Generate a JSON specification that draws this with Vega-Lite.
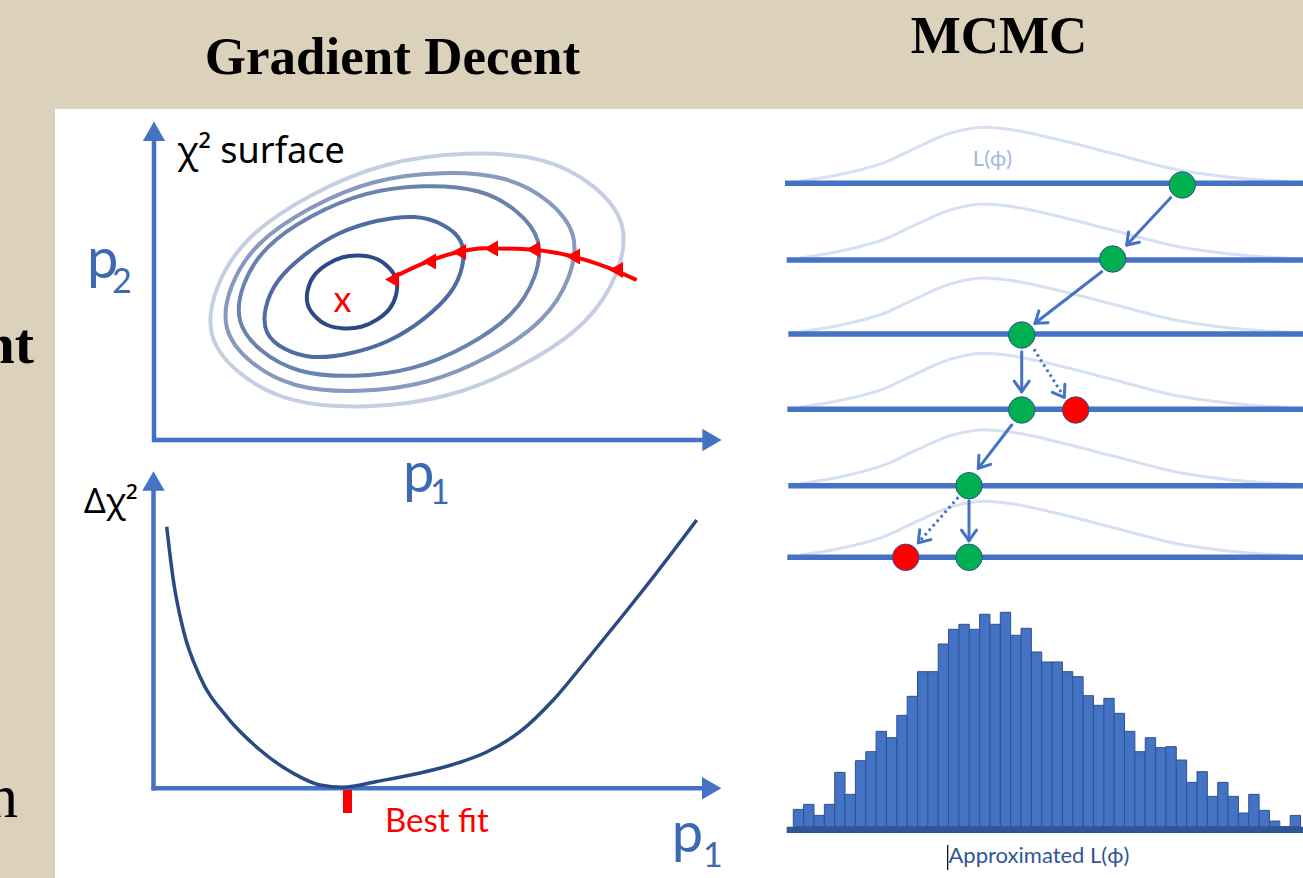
{
  "$schema": "https://vega.github.io/schema/vega-lite/v6.json",
  "width": 1303,
  "height": 878,
  "autosize": {"type": "none"},
  "padding": 0,
  "background": "#dcd2bb",
  "config": {"view": {"stroke": null}},
  "datasets": {
    "panel": [{"x": 55, "y": 109, "x2": 1303, "y2": 878}],
    "likelihood": [
      {"k": 1, "x": 800, "y": 181.3}, {"k": 1, "x": 850, "y": 172.3}, {"k": 1, "x": 885, "y": 162.3}, {"k": 1, "x": 915, "y": 148.3}, {"k": 1, "x": 950, "y": 133.3}, {"k": 1, "x": 985, "y": 127.3}, {"k": 1, "x": 1015, "y": 130.3}, {"k": 1, "x": 1065, "y": 141.3}, {"k": 1, "x": 1112, "y": 153.3}, {"k": 1, "x": 1180, "y": 170.3}, {"k": 1, "x": 1230, "y": 177.3}, {"k": 1, "x": 1290, "y": 181.8},
      {"k": 2, "x": 800, "y": 258}, {"k": 2, "x": 850, "y": 249}, {"k": 2, "x": 885, "y": 239}, {"k": 2, "x": 915, "y": 225}, {"k": 2, "x": 950, "y": 210}, {"k": 2, "x": 985, "y": 204}, {"k": 2, "x": 1015, "y": 207}, {"k": 2, "x": 1065, "y": 218}, {"k": 2, "x": 1112, "y": 230}, {"k": 2, "x": 1180, "y": 247}, {"k": 2, "x": 1230, "y": 254}, {"k": 2, "x": 1290, "y": 258.5},
      {"k": 3, "x": 800, "y": 332}, {"k": 3, "x": 850, "y": 323}, {"k": 3, "x": 885, "y": 313}, {"k": 3, "x": 915, "y": 299}, {"k": 3, "x": 950, "y": 284}, {"k": 3, "x": 985, "y": 278}, {"k": 3, "x": 1015, "y": 281}, {"k": 3, "x": 1065, "y": 292}, {"k": 3, "x": 1112, "y": 304}, {"k": 3, "x": 1180, "y": 321}, {"k": 3, "x": 1230, "y": 328}, {"k": 3, "x": 1290, "y": 332.5},
      {"k": 4, "x": 800, "y": 407.3}, {"k": 4, "x": 850, "y": 398.3}, {"k": 4, "x": 885, "y": 388.3}, {"k": 4, "x": 915, "y": 374.3}, {"k": 4, "x": 950, "y": 359.3}, {"k": 4, "x": 985, "y": 353.3}, {"k": 4, "x": 1015, "y": 356.3}, {"k": 4, "x": 1065, "y": 367.3}, {"k": 4, "x": 1112, "y": 379.3}, {"k": 4, "x": 1180, "y": 396.3}, {"k": 4, "x": 1230, "y": 403.3}, {"k": 4, "x": 1290, "y": 407.8},
      {"k": 5, "x": 800, "y": 483.7}, {"k": 5, "x": 850, "y": 474.7}, {"k": 5, "x": 885, "y": 464.7}, {"k": 5, "x": 915, "y": 450.7}, {"k": 5, "x": 950, "y": 435.7}, {"k": 5, "x": 985, "y": 429.7}, {"k": 5, "x": 1015, "y": 432.7}, {"k": 5, "x": 1065, "y": 443.7}, {"k": 5, "x": 1112, "y": 455.7}, {"k": 5, "x": 1180, "y": 472.7}, {"k": 5, "x": 1230, "y": 479.7}, {"k": 5, "x": 1290, "y": 484.2},
      {"k": 6, "x": 800, "y": 555.3}, {"k": 6, "x": 850, "y": 546.3}, {"k": 6, "x": 885, "y": 536.3}, {"k": 6, "x": 915, "y": 522.3}, {"k": 6, "x": 950, "y": 507.3}, {"k": 6, "x": 985, "y": 501.3}, {"k": 6, "x": 1015, "y": 504.3}, {"k": 6, "x": 1065, "y": 515.3}, {"k": 6, "x": 1112, "y": 527.3}, {"k": 6, "x": 1180, "y": 544.3}, {"k": 6, "x": 1230, "y": 551.3}, {"k": 6, "x": 1290, "y": 555.8}
    ],
    "chains": [
      {"x": 785, "x2": 1303, "y": 183.3},
      {"x": 786.7, "x2": 1303, "y": 260},
      {"x": 788.3, "x2": 1303, "y": 334},
      {"x": 787.3, "x2": 1303, "y": 409.3},
      {"x": 788.3, "x2": 1303, "y": 485.7},
      {"x": 787.3, "x2": 1303, "y": 557.3}
    ],
    "contours": [
      {"e": "c5", "x": 621.8, "y": 225.1}, {"e": "c5", "x": 540, "y": 159.9}, {"e": "c5", "x": 386.2, "y": 165}, {"e": "c5", "x": 250.4, "y": 237.5}, {"e": "c5", "x": 212.2, "y": 334.9}, {"e": "c5", "x": 294, "y": 400.1}, {"e": "c5", "x": 447.8, "y": 395}, {"e": "c5", "x": 583.6, "y": 322.5},
      {"e": "c4", "x": 572.9, "y": 235.6}, {"e": "c4", "x": 503.4, "y": 178.8}, {"e": "c4", "x": 373.3, "y": 182.5}, {"e": "c4", "x": 258.9, "y": 244.5}, {"e": "c4", "x": 227.1, "y": 328.4}, {"e": "c4", "x": 296.6, "y": 385.2}, {"e": "c4", "x": 426.7, "y": 381.5}, {"e": "c4", "x": 541.1, "y": 319.5},
      {"e": "c3", "x": 537.8, "y": 241.1}, {"e": "c3", "x": 477.7, "y": 191.3}, {"e": "c3", "x": 365.7, "y": 194.1}, {"e": "c3", "x": 267.3, "y": 247.8}, {"e": "c3", "x": 240.2, "y": 320.9}, {"e": "c3", "x": 300.3, "y": 370.7}, {"e": "c3", "x": 412.3, "y": 367.9}, {"e": "c3", "x": 510.7, "y": 314.2},
      {"e": "c2", "x": 460.9, "y": 241.7}, {"e": "c2", "x": 414.8, "y": 217.1}, {"e": "c2", "x": 339, "y": 233.5}, {"e": "c2", "x": 277.8, "y": 281.2}, {"e": "c2", "x": 267.1, "y": 332.3}, {"e": "c2", "x": 313.2, "y": 356.9}, {"e": "c2", "x": 389, "y": 340.5}, {"e": "c2", "x": 450.2, "y": 292.8},
      {"e": "c1", "x": 396.4, "y": 280.1}, {"e": "c1", "x": 376.8, "y": 259}, {"e": "c1", "x": 342.7, "y": 257.2}, {"e": "c1", "x": 314, "y": 275.8}, {"e": "c1", "x": 307.6, "y": 303.9}, {"e": "c1", "x": 327.2, "y": 325}, {"e": "c1", "x": 361.3, "y": 326.8}, {"e": "c1", "x": 390, "y": 308.2}
    ],
    "descent": [
      {"x": 636.7, "y": 280}, {"x": 610, "y": 268.3}, {"x": 566.7, "y": 255}, {"x": 526.7, "y": 249.3}, {"x": 485, "y": 248.3}, {"x": 453.3, "y": 253.3}, {"x": 423.3, "y": 263.3}, {"x": 392, "y": 278}
    ],
    "descentHeads": [
      {"x": 616, "y": 270}, {"x": 573, "y": 256.5}, {"x": 533, "y": 249.5}, {"x": 491, "y": 248.5}, {"x": 459, "y": 252}, {"x": 429, "y": 261.5}, {"x": 392, "y": 279.5}
    ],
    "axes": [
      {"x": 154, "y": 141, "x2": 154, "y2": 441.5},
      {"x": 152, "y": 440, "x2": 703, "y2": 440},
      {"x": 153.5, "y": 489, "x2": 153.5, "y2": 790.5},
      {"x": 151.5, "y": 788.3, "x2": 703, "y2": 788.3}
    ],
    "axisUp": [{"x": 154, "y": 131.2}, {"x": 153.5, "y": 481}],
    "axisRight": [{"x": 712, "y": 440}, {"x": 711.7, "y": 788.3}],
    "chi2": [
      {"x": 166.7, "y": 526.7}, {"x": 173.3, "y": 580}, {"x": 183.3, "y": 630}, {"x": 200, "y": 676.7}, {"x": 226.7, "y": 716.7}, {"x": 260, "y": 750}, {"x": 293.3, "y": 773.3}, {"x": 320, "y": 785}, {"x": 343.3, "y": 787.3}, {"x": 376.7, "y": 781.5}, {"x": 420, "y": 773}, {"x": 453, "y": 764.5}, {"x": 486.7, "y": 752}, {"x": 520, "y": 731.7}, {"x": 553.3, "y": 700}, {"x": 586.7, "y": 660}, {"x": 620, "y": 619}, {"x": 653.3, "y": 577}, {"x": 696.7, "y": 520}
    ],
    "bestTick": [{"x": 343, "y": 790, "x2": 352, "y2": 813}],
    "histBase": [{"x": 786.7, "y": 826.7, "x2": 1303, "y2": 833}],
    "arrowSolid": [
      {"x": 1170.7, "y": 197.7, "x2": 1126.7, "y2": 245},
      {"x": 1126.7, "y": 245, "x2": 1139.4, "y2": 242.3},
      {"x": 1126.7, "y": 245, "x2": 1128.5, "y2": 232.1},
      {"x": 1101.7, "y": 271.7, "x2": 1035, "y2": 323.3},
      {"x": 1035, "y": 323.3, "x2": 1048, "y2": 322.7},
      {"x": 1035, "y": 323.3, "x2": 1038.9, "y2": 310.9},
      {"x": 1021.7, "y": 351.7, "x2": 1021.7, "y2": 391.7},
      {"x": 1021.7, "y": 391.7, "x2": 1029.2, "y2": 381.1},
      {"x": 1021.7, "y": 391.7, "x2": 1014.2, "y2": 381.1},
      {"x": 1011.7, "y": 425, "x2": 978.3, "y2": 468.3},
      {"x": 978.3, "y": 468.3, "x2": 990.7, "y2": 464.4},
      {"x": 978.3, "y": 468.3, "x2": 978.9, "y2": 455.3},
      {"x": 969, "y": 500.7, "x2": 969, "y2": 540.7},
      {"x": 969, "y": 540.7, "x2": 976.5, "y2": 530.1},
      {"x": 969, "y": 540.7, "x2": 961.5, "y2": 530.1},
      {"x": 1064.3, "y": 397.3, "x2": 1064.9, "y2": 384.3},
      {"x": 1064.3, "y": 397.3, "x2": 1052.3, "y2": 392.3},
      {"x": 918.3, "y": 542.7, "x2": 930.9, "y2": 539.6},
      {"x": 918.3, "y": 542.7, "x2": 919.7, "y2": 529.8}
    ],
    "arrowDotted": [
      {"x": 1034, "y": 349.3, "x2": 1064.3, "y2": 397.3},
      {"x": 958.3, "y": 497.3, "x2": 918.3, "y2": 542.7}
    ],
    "accepted": [
      {"x": 1182.3, "y": 185}, {"x": 1112.7, "y": 259}, {"x": 1021.7, "y": 335}, {"x": 1021.7, "y": 410}, {"x": 969, "y": 485.7}, {"x": 969, "y": 557.3}
    ],
    "rejected": [{"x": 1075.7, "y": 410}, {"x": 905.7, "y": 557.3}],
    "cursor": [{"x": 947.7, "y": 845, "x2": 947.7, "y2": 870}],
    "titles": [
      {"t": "Gradient Decent", "x": 392.5, "y": 74},
      {"t": "MCMC", "x": 999, "y": 53.3}
    ],
    "sideBold": [{"t": "nt", "x": 34, "y": 363}],
    "sideRegular": [{"t": "n", "x": 18, "y": 817}],
    "surfaceLabel": [{"t": "χ² surface", "x": 177, "y": 163}],
    "deltaLabel": [{"t": "Δχ²", "x": 84, "y": 513}],
    "minMark": [{"t": "x", "x": 342.5, "y": 311.7}],
    "bestLabel": [{"t": "Best fit", "x": 385, "y": 831.7}],
    "pLabels": [
      {"t": "p", "x": 87, "y": 278},
      {"t": "p", "x": 403, "y": 492},
      {"t": "p", "x": 671.7, "y": 852}
    ],
    "pSubs": [
      {"t": "2", "x": 112, "y": 293},
      {"t": "1", "x": 430, "y": 504},
      {"t": "1", "x": 703, "y": 867}
    ],
    "likeLabel": [{"t": "L(ϕ)", "x": 992.5, "y": 166}],
    "approxLabel": [{"t": "Approximated L(ϕ)", "x": 948.5, "y": 863}],
    "hist": [
      {"bin": 1, "count": 52}, {"bin": 2, "count": 67}, {"bin": 3, "count": 34}, {"bin": 4, "count": 67}, {"bin": 5, "count": 163},
      {"bin": 6, "count": 97}, {"bin": 7, "count": 198}, {"bin": 8, "count": 225}, {"bin": 9, "count": 286}, {"bin": 10, "count": 267},
      {"bin": 11, "count": 334}, {"bin": 12, "count": 391}, {"bin": 13, "count": 465}, {"bin": 14, "count": 465}, {"bin": 15, "count": 548},
      {"bin": 16, "count": 592}, {"bin": 17, "count": 607}, {"bin": 18, "count": 592}, {"bin": 19, "count": 637}, {"bin": 20, "count": 607},
      {"bin": 21, "count": 643}, {"bin": 22, "count": 574}, {"bin": 23, "count": 595}, {"bin": 24, "count": 524}, {"bin": 25, "count": 494},
      {"bin": 26, "count": 494}, {"bin": 27, "count": 465}, {"bin": 28, "count": 450}, {"bin": 29, "count": 393}, {"bin": 30, "count": 364},
      {"bin": 31, "count": 385}, {"bin": 32, "count": 340}, {"bin": 33, "count": 286}, {"bin": 34, "count": 225}, {"bin": 35, "count": 267},
      {"bin": 36, "count": 237}, {"bin": 37, "count": 240}, {"bin": 38, "count": 200}, {"bin": 39, "count": 133}, {"bin": 40, "count": 165},
      {"bin": 41, "count": 91}, {"bin": 42, "count": 133}, {"bin": 43, "count": 91}, {"bin": 44, "count": 41}, {"bin": 45, "count": 97},
      {"bin": 46, "count": 49}, {"bin": 47, "count": 17}, {"bin": 48, "count": 0}, {"bin": 49, "count": 34}
    ]
  },
  "resolve": {"scale": {"x": "independent", "y": "independent"}},
  "layer": [
    {
      "encoding": {
        "x": {"field": "x", "type": "quantitative", "scale": {"domain": [0, 1303], "nice": false, "zero": false}, "axis": null},
        "y": {"field": "y", "type": "quantitative", "scale": {"domain": [0, 878], "nice": false, "zero": false, "reverse": true}, "axis": null}
      },
      "layer": [
        {"data": {"name": "panel"}, "mark": {"type": "rect", "color": "#ffffff"}, "encoding": {"x2": {"field": "x2"}, "y2": {"field": "y2"}}},
        {"data": {"name": "likelihood"}, "mark": {"type": "line", "color": "#d6e0f3", "strokeWidth": 3, "interpolate": "monotone"}, "encoding": {"detail": {"field": "k", "type": "nominal"}}},
        {"data": {"name": "chains"}, "mark": {"type": "rule", "color": "#4472c4", "strokeWidth": 5.5}, "encoding": {"x2": {"field": "x2"}}},
        {"data": {"name": "contours"}, "mark": {"type": "line", "strokeWidth": 4, "interpolate": "cardinal-closed"},
          "encoding": {
            "color": {"field": "e", "type": "nominal", "scale": {"domain": ["c1", "c2", "c3", "c4", "c5"], "range": ["#2b4a86", "#4f6ca2", "#6a82ae", "#8799be", "#c6cfe1"]}, "legend": null},
            "order": {"value": null}
          }},
        {"data": {"name": "descent"}, "mark": {"type": "line", "color": "#ff0000", "strokeWidth": 4, "interpolate": "monotone"}},
        {"data": {"name": "descentHeads"}, "mark": {"type": "point", "shape": "triangle-left", "filled": true, "color": "#ff0000", "size": 260, "opacity": 1}},
        {"data": {"name": "axes"}, "mark": {"type": "rule", "color": "#4472c4", "strokeWidth": 4.5}, "encoding": {"x2": {"field": "x2"}, "y2": {"field": "y2"}}},
        {"data": {"name": "axisUp"}, "mark": {"type": "point", "shape": "triangle-up", "filled": true, "color": "#4472c4", "size": 500, "opacity": 1}},
        {"data": {"name": "axisRight"}, "mark": {"type": "point", "shape": "triangle-right", "filled": true, "color": "#4472c4", "size": 500, "opacity": 1}},
        {"data": {"name": "chi2"}, "mark": {"type": "line", "color": "#2b4a84", "strokeWidth": 3.5, "interpolate": "monotone"}},
        {"data": {"name": "bestTick"}, "mark": {"type": "rect", "color": "#ff0000"}, "encoding": {"x2": {"field": "x2"}, "y2": {"field": "y2"}}},
        {"data": {"name": "histBase"}, "mark": {"type": "rect", "color": "#2f5597"}, "encoding": {"x2": {"field": "x2"}, "y2": {"field": "y2"}}},
        {"data": {"name": "arrowSolid"}, "mark": {"type": "rule", "color": "#4472c4", "strokeWidth": 3, "strokeCap": "round"}, "encoding": {"x2": {"field": "x2"}, "y2": {"field": "y2"}}},
        {"data": {"name": "arrowDotted"}, "mark": {"type": "rule", "color": "#4472c4", "strokeWidth": 3, "strokeDash": [2.5, 3.5]}, "encoding": {"x2": {"field": "x2"}, "y2": {"field": "y2"}}},
        {"data": {"name": "accepted"}, "mark": {"type": "point", "shape": "circle", "filled": true, "fill": "#00b050", "stroke": "#2f528f", "strokeWidth": 1, "size": 700, "opacity": 1}},
        {"data": {"name": "rejected"}, "mark": {"type": "point", "shape": "circle", "filled": true, "fill": "#ff0000", "stroke": "#2f528f", "strokeWidth": 1, "size": 700, "opacity": 1}},
        {"data": {"name": "cursor"}, "mark": {"type": "rule", "color": "#000000", "strokeWidth": 1.2}, "encoding": {"x2": {"field": "x2"}, "y2": {"field": "y2"}}},
        {"data": {"name": "titles"}, "mark": {"type": "text", "font": "Liberation Serif", "fontWeight": "bold", "fontSize": 53, "align": "center", "baseline": "alphabetic", "color": "#000000"}, "encoding": {"text": {"field": "t"}}},
        {"data": {"name": "sideBold"}, "mark": {"type": "text", "font": "Liberation Serif", "fontWeight": "bold", "fontSize": 58, "align": "right", "baseline": "alphabetic", "color": "#000000"}, "encoding": {"text": {"field": "t"}}},
        {"data": {"name": "sideRegular"}, "mark": {"type": "text", "font": "Liberation Serif", "fontSize": 62, "align": "right", "baseline": "alphabetic", "color": "#000000"}, "encoding": {"text": {"field": "t"}}},
        {"data": {"name": "surfaceLabel"}, "mark": {"type": "text", "font": "Noto Sans", "fontSize": 36, "align": "left", "baseline": "alphabetic", "color": "#000000"}, "encoding": {"text": {"field": "t"}}},
        {"data": {"name": "deltaLabel"}, "mark": {"type": "text", "font": "Noto Sans", "fontSize": 34, "align": "left", "baseline": "alphabetic", "color": "#000000"}, "encoding": {"text": {"field": "t"}}},
        {"data": {"name": "minMark"}, "mark": {"type": "text", "font": "Lato, Noto Sans", "fontSize": 36, "align": "center", "baseline": "alphabetic", "color": "#ff0000"}, "encoding": {"text": {"field": "t"}}},
        {"data": {"name": "bestLabel"}, "mark": {"type": "text", "font": "Lato, Noto Sans", "fontSize": 33, "align": "left", "baseline": "alphabetic", "color": "#ff0000"}, "encoding": {"text": {"field": "t"}}},
        {"data": {"name": "pLabels"}, "mark": {"type": "text", "font": "Lato, Noto Sans", "fontSize": 56, "align": "left", "baseline": "alphabetic", "color": "#3d68b2"}, "encoding": {"text": {"field": "t"}}},
        {"data": {"name": "pSubs"}, "mark": {"type": "text", "font": "Lato, Noto Sans", "fontSize": 34, "align": "left", "baseline": "alphabetic", "color": "#3d68b2"}, "encoding": {"text": {"field": "t"}}},
        {"data": {"name": "likeLabel"}, "mark": {"type": "text", "font": "Lato, Noto Sans", "fontSize": 22, "align": "center", "baseline": "alphabetic", "color": "#a3b7e0"}, "encoding": {"text": {"field": "t"}}},
        {"data": {"name": "approxLabel"}, "mark": {"type": "text", "font": "Lato, Noto Sans", "fontSize": 22, "align": "left", "baseline": "alphabetic", "color": "#2f5597"}, "encoding": {"text": {"field": "t"}}}
      ]
    },
    {
      "data": {"name": "hist"},
      "mark": {"type": "bar", "color": "#4472c4", "stroke": "#2f528f", "strokeWidth": 1},
      "encoding": {
        "x": {"field": "bin", "type": "ordinal", "scale": {"range": [793.3, 1300.5], "paddingInner": 0, "paddingOuter": 0}, "axis": null},
        "y": {"field": "count", "type": "quantitative", "scale": {"domain": [0, 643], "range": [826.7, 612.3], "nice": false, "zero": true}, "axis": null}
      }
    }
  ]
}
